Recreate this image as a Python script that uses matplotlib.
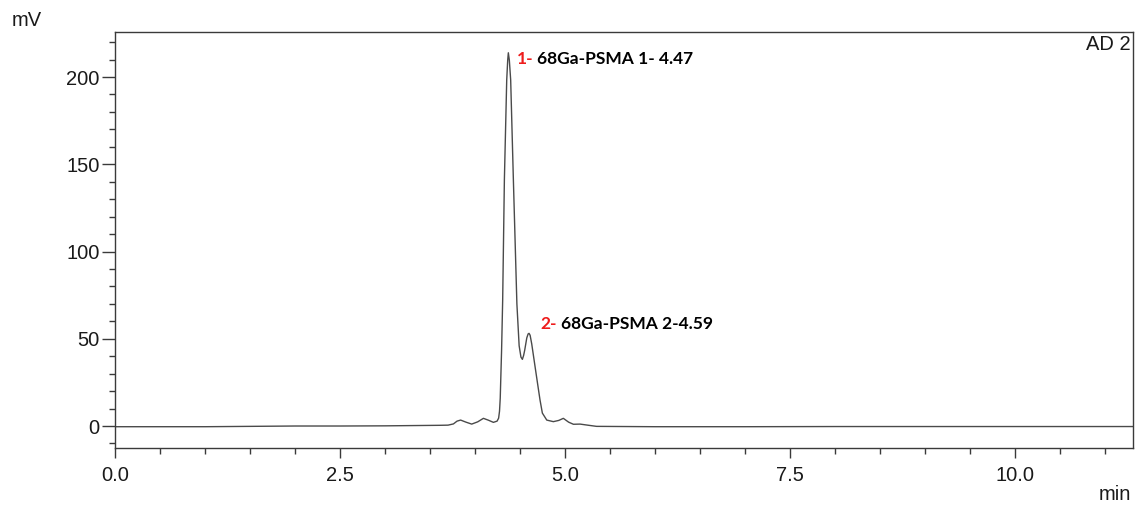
import matplotlib
matplotlib.use("Agg")
import matplotlib.pyplot as plt
from matplotlib.ticker import MultipleLocator

# Chromatogram trace (time in min, signal in mV)
time_min = [0.0, 0.5, 1.0, 1.5, 2.0, 2.5, 3.0, 3.4, 3.6, 3.7, 3.76, 3.80, 3.84, 3.90,
            3.963, 4.03, 4.093, 4.15, 4.204, 4.245, 4.262, 4.272, 4.280, 4.295,
            4.307, 4.326, 4.352, 4.363, 4.370, 4.381, 4.396, 4.426, 4.465, 4.490,
            4.510, 4.526, 4.540, 4.552, 4.575, 4.590,
            4.600, 4.612, 4.630, 4.667, 4.700, 4.722, 4.748, 4.797, 4.870, 4.930,
            4.981, 5.040, 5.093, 5.167, 5.250, 5.350, 6.0, 7.0, 8.0, 9.0, 10.0, 11.31]
signal_mv = [-0.4, -0.4, -0.4, -0.2, 0.0, 0.0, 0.1, 0.3, 0.4, 0.5, 1.2, 2.8, 3.4, 2.2,
             1.1, 2.4, 4.4, 3.3, 2.1, 2.8, 4.5, 8.5, 16.0, 43.5,
             72.0, 141.0, 198.3, 209.7, 213.9, 209.7, 198.3, 141.0, 70.0, 46.0,
             39.5, 38.2, 40.5, 43.5, 50.5, 52.8,
             53.1, 52.0, 47.0, 34.0, 22.5, 14.9, 7.4, 3.4, 2.5, 3.2,
             4.4, 2.2, 1.0, 1.1, 0.5, -0.2, -0.4, -0.4, -0.3, -0.3, -0.3, -0.3]

# Peak annotations
peak_numbers = ["1-", "2-"]
peak_labels = ["68Ga-PSMA 1- 4.47", "68Ga-PSMA 2-4.59"]
label_num_xy = [(4.467, 210.3), (4.722, 58.5)]
label_txt_xy = [(4.689, 210.3), (4.956, 58.5)]

x_major = [0.0, 2.5, 5.0, 7.5, 10.0]
x_tick_labels = ["0.0", "2.5", "5.0", "7.5", "10.0"]
y_major = [0, 50, 100, 150, 200]
y_tick_labels = ["0", "50", "100", "150", "200"]

plt.rcParams['font.family'] = ['Liberation Sans', 'DejaVu Sans']

fig = plt.figure(figsize=(11.46, 5.12), dpi=100)
ax = fig.add_axes([115/1146, 1 - 448/512, (1133 - 115)/1146, (448 - 32)/512])

ax.plot(time_min, signal_mv, color='#4a4a4a', lw=1.0, solid_joinstyle='round')

ax.set_xlim(0, 11.31)
ax.set_ylim(-12.6, 225.8)

ax.set_xticks(x_major)
ax.set_xticklabels(x_tick_labels)
ax.set_yticks(y_major)
ax.set_yticklabels(y_tick_labels)
ax.xaxis.set_minor_locator(MultipleLocator(0.5))
ax.yaxis.set_minor_locator(MultipleLocator(10))

tick_col = '#3a3a3a'
ax.tick_params(axis='both', which='both', direction='out', colors=tick_col,
               labelcolor='#1a1a1a', labelsize=14.5, width=1.0)
ax.tick_params(axis='x', which='major', length=7, pad=6)
ax.tick_params(axis='x', which='minor', length=4)
ax.tick_params(axis='y', which='major', length=9.5, pad=1.5)
ax.tick_params(axis='y', which='minor', length=4.5)
for s in ax.spines.values():
    s.set_color('#3a3a3a')
    s.set_linewidth(1.0)

fig.text(11.7/1146, 1 - 20/512, "mV", fontsize=14.5, color='#1a1a1a',
         ha='left', va='center')
fig.text(1131/1146, 1 - 494/512, "min", fontsize=14.5, color='#1a1a1a',
         ha='right', va='center')
fig.text(1131/1146, 1 - 35/512, "AD 2", fontsize=14.5, color='#1a1a1a',
         ha='right', va='top')

for num, lab, nxy, txy in zip(peak_numbers, peak_labels, label_num_xy, label_txt_xy):
    ax.text(nxy[0], nxy[1], num, color='#ee1c1c', fontsize=12.5, fontweight='bold',
            family=['Lato', 'DejaVu Sans'], ha='left', va='center')
    ax.text(txy[0], txy[1], lab, color='black', fontsize=12.5, fontweight='bold',
            family=['Lato', 'DejaVu Sans'], ha='left', va='center')

fig.savefig("out.png", dpi=100)
